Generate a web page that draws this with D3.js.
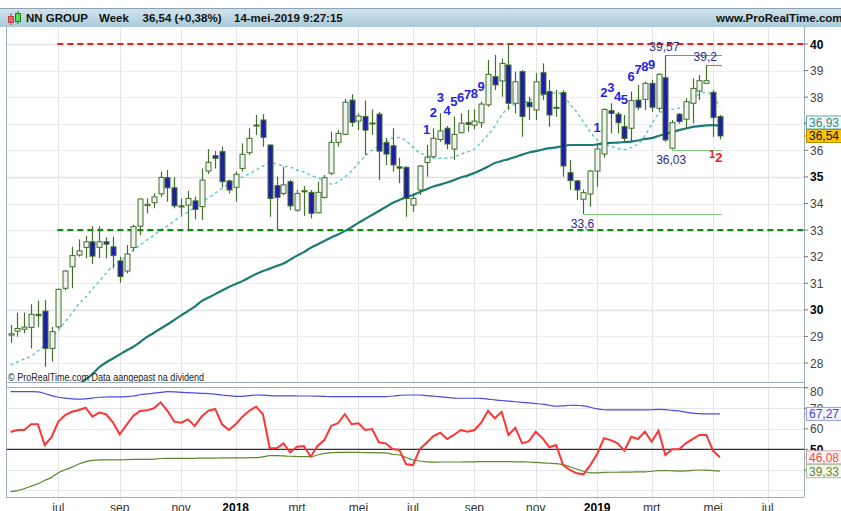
<!DOCTYPE html>
<html>
<head>
<meta charset="utf-8">
<script src="https://cdn.jsdelivr.net/npm/d3@7"></script>
<style>
  body { margin: 0; background: #fff; overflow: hidden; }
  svg { display: block; font-family: "Liberation Sans", Arial, sans-serif; }
</style>
</head>
<body>
<svg id="chart" width="841" height="511"></svg>
<script>
// weekly bars, first bar = week of 15 May 2017
const firstWeek = "2017-05-15";
const monthNames = ["jan","feb","mrt","apr","mei","jun","jul","aug","sep","okt","nov","dec"];

const opens = [29.05,29.20,29.27,29.34,29.83,29.95,28.55,29.36,30.81,31.62,
32.06,32.35,32.56,32.35,32.56,32.37,31.84,31.46,32.34,33.15,
33.92,34.03,34.36,34.97,34.59,33.91,33.94,34.10,33.88,35.22,
35.80,35.95,34.85,34.61,35.32,35.91,36.92,37.14,36.20,34.67,
34.38,34.82,33.75,34.48,34.42,33.65,34.23,35.14,36.30,36.60,
37.89,37.10,37.27,37.00,37.36,36.29,36.17,35.38,35.36,33.94,
34.51,35.54,35.76,36.41,36.83,36.05,36.66,37.04,36.95,37.04,
37.71,38.77,38.61,39.21,37.77,38.96,37.81,37.52,38.92,38.21,
37.62,38.17,35.16,34.85,34.16,34.36,35.22,35.86,37.49,37.36,
36.89,36.83,37.89,37.92,38.52,37.58,38.73,36.08,37.36,37.17,
37.77,38.23,38.52,38.18,37.27];
const highs = [29.43,29.89,29.90,30.21,30.34,30.37,29.36,30.80,31.50,32.37,
32.65,32.78,33.15,33.15,32.73,32.75,32.00,32.44,33.20,34.19,
34.19,34.38,35.20,35.26,34.98,34.19,34.48,34.26,35.32,36.04,
35.97,36.14,34.90,35.20,36.26,36.83,37.33,37.36,36.22,35.01,
35.38,34.88,34.51,34.66,34.51,34.82,35.07,36.70,36.76,37.93,
38.11,37.39,37.87,37.54,37.45,36.47,36.83,35.72,35.40,34.38,
35.45,36.20,36.83,37.39,36.92,37.27,37.39,37.52,37.54,37.83,
39.40,39.59,39.46,40.00,38.96,39.02,38.02,38.90,39.27,38.65,
38.27,38.27,35.64,34.88,34.53,35.26,36.26,37.58,37.77,37.45,
37.33,38.21,38.46,38.58,38.65,38.90,39.57,37.14,37.40,37.96,
38.71,38.83,39.20,38.27,37.33];
const lows = [28.76,28.99,29.12,28.55,29.36,27.86,28.05,29.30,30.74,30.81,
32.00,31.94,31.72,31.94,31.94,31.56,31.02,31.37,32.20,32.81,
33.63,33.82,34.25,34.07,33.82,33.57,32.98,33.40,33.38,35.11,
35.32,34.61,34.38,34.07,35.20,35.82,36.58,36.14,33.50,33.00,
34.32,33.75,33.69,33.53,33.44,33.63,34.19,35.07,36.14,36.58,
36.89,36.76,35.82,36.58,34.88,35.45,35.20,34.76,33.50,33.69,
34.32,35.01,35.70,36.32,36.04,35.64,36.64,36.70,36.79,36.85,
37.64,38.27,38.02,37.52,37.39,36.51,37.14,37.14,37.89,36.89,
37.26,35.01,34.51,34.13,33.60,33.88,34.63,35.72,36.64,36.64,
36.32,36.32,37.52,37.52,37.45,37.45,36.32,36.03,37.00,36.79,
37.02,37.89,38.50,36.51,36.41];
const closes = [29.10,29.30,29.35,29.83,29.78,28.55,29.18,30.77,31.46,32.04,
32.22,32.56,32.02,32.56,32.47,32.04,31.25,32.10,33.13,34.17,
33.97,34.25,34.98,34.59,33.91,33.87,34.19,33.78,34.88,35.55,
35.70,34.82,34.51,35.10,35.85,36.45,36.95,36.49,34.19,34.23,
34.70,33.91,34.38,34.44,33.63,34.42,34.97,36.30,36.64,37.81,
37.05,37.29,36.76,37.03,35.97,35.86,35.45,35.33,34.19,34.19,
35.41,35.74,36.45,36.73,36.24,36.60,37.02,36.98,37.10,37.74,
38.86,38.46,39.27,37.77,38.58,37.27,37.64,38.58,38.11,37.33,
37.58,35.41,34.86,34.51,34.41,35.22,36.05,37.54,37.39,37.04,
36.45,37.87,37.62,38.52,37.62,38.86,36.39,37.04,37.08,37.83,
38.33,38.62,38.62,37.23,36.54];

// short (dotted) and long (solid) moving averages
const maShort = [27.92,28.04,28.15,28.26,28.45,28.68,28.94,29.24,29.54,29.88,
30.22,30.48,30.78,31.08,31.38,31.65,31.84,32.02,32.25,32.44,
32.63,32.81,33.00,33.15,33.34,33.53,33.68,33.87,34.06,34.21,
34.39,34.58,34.73,34.88,35.00,35.11,35.26,35.41,35.52,35.49,
35.41,35.37,35.26,35.18,35.07,34.96,34.85,34.73,34.81,35.00,
35.22,35.52,35.79,36.01,36.16,36.31,36.46,36.48,36.35,36.12,
35.90,35.82,35.71,35.70,35.70,35.75,35.86,35.94,36.05,36.31,
36.58,36.91,37.33,37.59,37.74,37.78,37.87,38.01,38.08,38.14,
38.16,38.08,37.74,37.44,37.07,36.69,36.39,36.24,36.16,36.07,
36.03,36.11,36.24,36.54,36.99,37.37,37.50,37.55,37.59,37.69,
37.89,38.12,38.19,38.02,37.64];
const maLong = [null,null,null,null,null,null,null,null,null,null,
27.19,27.38,27.58,27.84,28.02,28.17,28.32,28.47,28.61,28.79,
28.98,29.13,29.30,29.45,29.62,29.79,29.95,30.12,30.33,30.46,
30.59,30.73,30.86,30.97,31.08,31.22,31.35,31.46,31.55,31.65,
31.74,31.89,32.04,32.17,32.33,32.46,32.59,32.72,32.83,32.96,
33.11,33.27,33.42,33.57,33.72,33.87,34.02,34.13,34.24,34.32,
34.43,34.54,34.64,34.71,34.79,34.88,34.98,35.05,35.15,35.26,
35.39,35.52,35.60,35.67,35.75,35.84,35.92,35.97,36.03,36.08,
36.11,36.16,36.20,36.20,36.20,36.20,36.22,36.26,36.28,36.29,
36.31,36.33,36.37,36.43,36.46,36.54,36.61,36.69,36.76,36.82,
36.88,36.91,36.94,36.95,36.93];

// oscillator panel
const rsi = [58.4,59.4,59.4,62.2,62.2,52.1,55.9,63.5,66.7,68.3,
69.2,70.3,65.9,67.9,67.1,63.2,57.3,61.9,66.4,68.7,
69.0,70.0,72.9,68.8,63.5,63.0,64.6,61.4,65.9,68.8,
69.7,62.2,59.4,62.2,65.9,68.8,70.8,67.1,50.5,50.5,
52.9,48.5,51.3,51.6,46.4,51.6,54.5,61.4,62.7,67.1,
62.2,62.7,59.4,59.9,53.4,52.9,50.1,49.7,42.7,42.3,
50.1,53.2,56.5,58.1,55.0,57.0,59.4,58.6,59.4,63.0,
68.8,65.1,68.3,57.0,60.5,52.9,54.0,58.6,55.4,51.0,
52.1,42.3,39.9,38.3,37.8,42.3,47.7,55.4,54.5,52.9,
49.3,56.1,55.0,58.6,53.7,59.1,47.2,50.0,50.0,52.9,
55.0,57.0,57.0,49.3,46.08];
const bandHigh = [78.1,78.1,78.1,78.1,78.0,77.2,76.2,75.4,75.0,74.6,
74.5,74.6,75.0,75.4,75.5,75.6,75.6,75.7,76.0,76.6,
77.0,77.4,77.8,78.1,78.0,77.8,77.6,77.5,77.3,77.2,
76.9,76.5,76.2,75.8,75.8,76.2,76.5,76.4,76.2,76.1,
76.1,76.1,76.0,76.0,76.0,75.9,75.8,75.7,75.7,75.7,
75.7,75.7,75.7,75.7,75.7,75.7,76.0,76.3,76.5,76.5,
76.5,76.2,75.9,75.6,75.3,75.0,74.9,74.9,74.9,74.8,
74.5,74.1,73.8,73.5,73.2,72.9,72.6,72.3,72.0,71.5,
71.0,71.2,71.5,71.4,71.2,70.5,69.7,69.3,69.2,69.2,
69.2,69.2,69.2,69.2,69.3,69.5,69.4,69.0,68.7,68.1,
67.6,67.4,67.3,67.3,67.27];
const bandLow = [29.4,29.8,30.8,32.0,33.2,34.8,36.3,38.6,40.0,41.3,
42.8,44.0,44.6,44.8,44.8,44.8,44.8,45.0,45.1,45.1,
45.1,45.2,45.5,45.6,45.6,45.6,45.6,45.6,45.7,45.7,
45.7,45.8,45.8,45.8,45.8,45.9,45.9,46.3,46.9,46.9,
46.8,46.6,46.5,46.4,46.4,47.2,48.0,48.3,48.5,48.5,
48.5,48.5,48.4,48.4,48.3,48.3,47.6,47.2,46.0,44.8,
44.3,43.9,43.7,43.8,43.8,43.8,43.8,43.9,43.9,44.0,
44.0,44.0,44.0,44.0,43.9,43.9,43.8,43.6,43.4,43.2,
43.0,42.5,41.5,40.4,39.3,38.5,38.5,38.7,38.8,38.8,
38.9,38.9,39.0,39.0,39.3,39.6,39.6,39.5,39.4,39.5,
39.7,39.9,39.8,39.6,39.33];

// horizontal levels drawn on the chart
const resistance = 40, support = 33, levelStartBar = 7;
// swing annotations
const swingBars = [96, 102, 97, 84];
const swingPrices = [39.57, 39.2, 36.03, 33.6];
const swingKind = ["high", "high", "low", "low"];
// sequential counts
const countUpBars = [61,62,63,64,65,66,67,68,69, 86,87,88,89,90,91,92,93,94];
const countUpNums = [1,2,3,4,5,6,7,8,9, 1,2,3,4,5,6,7,8,9];
const countDownBars = [103, 104];
const countDownNums = [1, 2];

const priceTicks = [28,29,30,31,32,33,34,35,36,37,38,39,40];
const oscTicks = [80,70,60,50,40];

// ---------------------------------------------------------------
const svg = d3.select("#chart");
const nl = d3.formatLocale({decimal: ",", thousands: ".", grouping: [3], currency: ["€", ""]});
const fmt2 = nl.format(".2f");
const fmtShort = v => nl.format("~f")(+v.toFixed(2));

const left = 6, right = 804;
const pTop = 28, pBot = 382, oTop = 387, oBot = 497;
const nBars = closes.length;
const lastIndex = 116;

const x = d3.scaleLinear().domain([0, nBars - 1]).range([10.6, 719.9]);
const y = d3.scaleLinear().domain([28, 40]).range([363, 44]);
const yo = d3.scaleLinear().domain([50, 80]).range([449.3, 387.8]);

const start = d3.timeParse("%Y-%m-%d")(firstWeek);
const dates = d3.range(lastIndex + 1).map(i => d3.timeMonday.offset(start, i));

const bars = closes.map((c, i) => ({i, o: opens[i], h: highs[i], l: lows[i], c}));

// month ticks: first weekly bar of every other month
const monthTicks = [];
dates.forEach((d, i) => {
  if (i === 0) return;
  const m = d.getMonth();
  if (m !== dates[i - 1].getMonth() && m % 2 === 0)
    monthTicks.push({i, label: m === 0 ? String(d.getFullYear()) : monthNames[m], year: m === 0});
});

// ---- header
const defs = svg.append("defs");
const grad = defs.append("linearGradient").attr("id", "hdr").attr("x1", 0).attr("x2", 0).attr("y1", 0).attr("y2", 1);
grad.append("stop").attr("offset", "0%").attr("stop-color", "#d3e5ee");
grad.append("stop").attr("offset", "100%").attr("stop-color", "#a9cad9");
defs.append("clipPath").attr("id", "clipP").append("rect")
  .attr("x", left).attr("y", pTop).attr("width", right - left).attr("height", pBot - pTop);
defs.append("clipPath").attr("id", "clipO").append("rect")
  .attr("x", left).attr("y", oTop).attr("width", right - left).attr("height", oBot - oTop);

svg.append("rect").attr("x", 0).attr("y", 8).attr("width", 841).attr("height", 19).attr("fill", "url(#hdr)");
svg.append("line").attr("x1", 0).attr("x2", 841).attr("y1", 8.5).attr("y2", 8.5).attr("stroke", "#8da3b1");
// little candle icon
svg.append("line").attr("x1", 11).attr("x2", 11).attr("y1", 13).attr("y2", 25).attr("stroke", "#c04040");
svg.append("rect").attr("x", 8.5).attr("y", 16.5).attr("width", 5).attr("height", 6).attr("fill", "#f06060").attr("stroke", "#c04040");
svg.append("line").attr("x1", 18).attr("x2", 18).attr("y1", 11).attr("y2", 24).attr("stroke", "#208020");
svg.append("rect").attr("x", 15.5).attr("y", 13.5).attr("width", 5).attr("height", 8).attr("fill", "#50e050").attr("stroke", "#208020");

const hdr = svg.append("g").attr("font-size", 11.5).attr("font-weight", "bold").attr("fill", "#111");
hdr.append("text").attr("x", 26).attr("y", 22).text("NN GROUP");
hdr.append("text").attr("x", 99).attr("y", 22).text("Week");
hdr.append("text").attr("x", 142.5).attr("y", 22).text(fmt2(closes[nBars - 1]) + " (+0,38%)");
hdr.append("text").attr("x", 234).attr("y", 22).text("14-mei-2019 9:27:15");
hdr.append("text").attr("x", 716).attr("y", 22).text("www.ProRealTime.com");

// ---- grid
const grid = svg.append("g");
monthTicks.forEach(t => {
  const gx = Math.round(x(t.i)) + 0.5;
  grid.append("line").attr("x1", gx).attr("x2", gx).attr("y1", 27).attr("y2", pBot).attr("stroke", "#e3e5e8");
  grid.append("line").attr("x1", gx).attr("x2", gx).attr("y1", oTop).attr("y2", oBot + 5).attr("stroke", "#e3e5e8");
});
priceTicks.forEach(v => {
  const gy = Math.round(y(v)) + 0.5;
  grid.append("line").attr("x1", left).attr("x2", right).attr("y1", gy).attr("y2", gy)
    .attr("stroke", v % 5 === 0 ? "#e0e1e3" : "#ebecee").attr("stroke-width", v % 5 === 0 ? 1.6 : 1);
});
[70, 60, 40, 30].forEach(v => {
  const gy = Math.round(yo(v)) + 0.5;
  grid.append("line").attr("x1", left).attr("x2", right).attr("y1", gy).attr("y2", gy).attr("stroke", "#e6e7e9");
});

// ---- price panel
const pp = svg.append("g").attr("clip-path", "url(#clipP)");

const lineLong = d3.line().defined(d => d != null).x((d, i) => x(i)).y(d => y(d)).curve(d3.curveMonotoneX);
const lineShort = d3.line().x((d, i) => x(i)).y(d => y(d)).curve(d3.curveMonotoneX);

pp.append("path").datum(maLong).attr("d", lineLong)
  .attr("fill", "none").attr("stroke", "#1d7a77").attr("stroke-width", 2.2);
pp.append("path").datum(maShort).attr("d", lineShort)
  .attr("fill", "none").attr("stroke", "#5cc5c8").attr("stroke-width", 1.4).attr("stroke-dasharray", "3,3");

// levels
pp.append("line").attr("x1", x(levelStartBar) - 1).attr("x2", right).attr("y1", y(resistance)).attr("y2", y(resistance))
  .attr("stroke", "#e8201c").attr("stroke-width", 2.2).attr("stroke-dasharray", "6,4");
pp.append("line").attr("x1", x(levelStartBar) - 1).attr("x2", right).attr("y1", y(support)).attr("y2", y(support))
  .attr("stroke", "#138a13").attr("stroke-width", 2.2).attr("stroke-dasharray", "6,4");

// swing lines
const lastX = x(nBars - 1) + 2;
swingBars.forEach((b, k) => {
  const sy = Math.round(y(swingPrices[k])) + 0.5;
  pp.append("line").attr("x1", x(b)).attr("x2", lastX).attr("y1", sy).attr("y2", sy)
    .attr("stroke", swingKind[k] === "high" ? "#e86060" : "#80d080").attr("stroke-width", 1.2);
});

// candles
const wickCol = "#41702a";
const cg = pp.append("g").selectAll("g").data(bars).join("g");
cg.append("line")
  .attr("x1", d => Math.round(x(d.i)) + 0.5).attr("x2", d => Math.round(x(d.i)) + 0.5)
  .attr("y1", d => y(d.h)).attr("y2", d => y(d.l))
  .attr("stroke", wickCol).attr("stroke-width", 1.2);
cg.append("rect")
  .attr("x", d => Math.round(x(d.i)) - 2)
  .attr("width", 5)
  .attr("y", d => y(Math.max(d.o, d.c)))
  .attr("height", d => Math.max(1, Math.abs(y(d.o) - y(d.c))))
  .attr("fill", d => d.c >= d.o ? "#f1f2f1" : "#1e1ea8")
  .attr("stroke", wickCol).attr("stroke-width", 1);

// swing labels
swingBars.forEach((b, k) => {
  const hi = swingKind[k] === "high";
  pp.append("text").attr("x", x(b) - 1).attr("y", hi ? y(swingPrices[k]) - 4 : y(swingPrices[k]) + 14)
    .attr("text-anchor", "middle").attr("font-size", 12).attr("fill", "#2c2c8e")
    .text(fmtShort(swingPrices[k]));
});

// counts
countUpBars.forEach((b, k) => {
  pp.append("text").attr("x", x(b)).attr("y", y(highs[b]) - 11)
    .attr("text-anchor", "middle").attr("font-size", 13).attr("font-weight", "bold").attr("fill", "#2424e6")
    .text(countUpNums[k]);
});
countDownBars.forEach((b, k) => {
  pp.append("text").attr("x", x(b) - 1).attr("y", y(lows[b]) + 21 + k * 2)
    .attr("text-anchor", "middle").attr("font-size", k === 0 ? 11 : 13).attr("font-weight", "bold").attr("fill", "#f01c1c")
    .text(countDownNums[k]);
});

svg.append("text").attr("x", 8).attr("y", 381).attr("font-size", 10).attr("fill", "#222")
  .attr("textLength", 196).attr("lengthAdjust", "spacingAndGlyphs")
  .text("© ProRealTime.com  Data aangepast na dividend");

// ---- oscillator panel
const op = svg.append("g").attr("clip-path", "url(#clipO)");
op.append("line").attr("x1", left).attr("x2", right).attr("y1", yo(50)).attr("y2", yo(50))
  .attr("stroke", "#3e2a3c").attr("stroke-width", 1.2);
const lineO = d3.line().x((d, i) => x(i)).y(d => yo(d));
op.append("path").datum(bandHigh).attr("d", lineO.curve(d3.curveMonotoneX)).attr("fill", "none").attr("stroke", "#4a4ae8").attr("stroke-width", 1.2);
op.append("path").datum(bandLow).attr("d", lineO.curve(d3.curveMonotoneX)).attr("fill", "none").attr("stroke", "#5a8a2c").attr("stroke-width", 1.2);
op.append("path").datum(rsi).attr("d", lineO.curve(d3.curveLinear)).attr("fill", "none").attr("stroke", "#ff3434").attr("stroke-width", 2);

// ---- frames
const frame = svg.append("g").attr("fill", "none").attr("stroke", "#9aaebb");
frame.append("line").attr("x1", left + 0.5).attr("x2", left + 0.5).attr("y1", 27).attr("y2", oBot);
frame.append("line").attr("x1", right + 0.5).attr("x2", right + 0.5).attr("y1", 27).attr("y2", oBot);
frame.append("line").attr("x1", left).attr("x2", right).attr("y1", pBot + 0.5).attr("y2", pBot + 0.5);
frame.append("line").attr("x1", left).attr("x2", right + 4).attr("y1", oTop + 0.5).attr("y2", oTop + 0.5);
frame.append("line").attr("x1", left).attr("x2", right).attr("y1", oBot + 0.5).attr("y2", oBot + 0.5);

// ---- right axes
const ax = svg.append("g").attr("font-size", 12);
priceTicks.forEach(v => {
  const ty = y(v);
  const bold = v % 5 === 0;
  ax.append("line").attr("x1", right).attr("x2", right + 4).attr("y1", ty).attr("y2", ty).attr("stroke", "#777");
  ax.append("text").attr("x", 810).attr("y", ty + 4.5).attr("fill", bold ? "#000" : "#444")
    .attr("font-weight", bold ? "bold" : "normal").text(v);
});
oscTicks.forEach(v => {
  const ty = yo(v);
  ax.append("line").attr("x1", right).attr("x2", right + 4).attr("y1", ty).attr("y2", ty).attr("stroke", "#777");
  ax.append("text").attr("x", 810).attr("y", Math.max(ty + 4.5, oTop + 9)).attr("fill", v === 50 ? "#000" : "#444")
    .attr("font-weight", v === 50 ? "bold" : "normal").text(v);
});

function valueBox(cy, txt, stroke, fill, textCol) {
  const g = svg.append("g");
  g.append("rect").attr("x", 806.5).attr("y", cy - 6.5).attr("width", 40).attr("height", 13)
    .attr("fill", fill).attr("stroke", stroke);
  g.append("line").attr("x1", right).attr("x2", 807).attr("y1", cy).attr("y2", cy).attr("stroke", stroke);
  g.append("text").attr("x", 809).attr("y", cy + 4.5).attr("font-size", 12).attr("fill", textCol).text(txt);
}
const lastMa = maLong[nBars - 1], lastClose = closes[nBars - 1];
let yMa = y(lastMa);
const yClose = y(lastClose);
if (yClose - yMa < 13.5) yMa = yClose - 13.5;
valueBox(yMa, fmt2(lastMa), "#6aa6ab", "#f4f8f8", "#2a8a88");
valueBox(yClose, fmt2(lastClose), "#b89000", "#f7c600", "#111");
valueBox(yo(bandHigh[nBars - 1]), fmt2(bandHigh[nBars - 1]), "#9aa0d8", "#f4f4fb", "#4545e0");
valueBox(yo(rsi[nBars - 1]), fmt2(rsi[nBars - 1]), "#d8a0a0", "#fbf4f4", "#ff4040");
valueBox(yo(bandLow[nBars - 1]), fmt2(bandLow[nBars - 1]), "#a8bc98", "#f5f8f2", "#5a8a2c");

// ---- bottom month labels
const mx = svg.append("g").attr("font-size", 12).attr("fill", "#333").attr("text-anchor", "middle");
monthTicks.forEach(t => {
  mx.append("text").attr("x", x(t.i)).attr("y", 512)
    .attr("font-weight", t.year ? "bold" : "normal").attr("fill", t.year ? "#000" : "#333").text(t.label);
});
</script>
</body>
</html>
